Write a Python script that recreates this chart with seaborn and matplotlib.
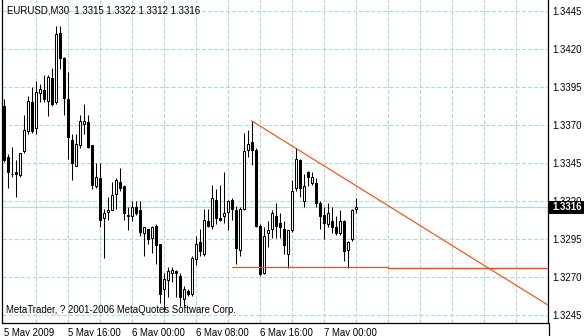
import numpy as np
import pandas as pd
import matplotlib
matplotlib.use("Agg")
import matplotlib.pyplot as plt
import matplotlib.transforms as mtransforms
from matplotlib.patches import Rectangle
import seaborn as sns

# ---------------- data ----------------
title_text = "EURUSD,M30  1.3315 1.3322 1.3312 1.3316"
footer_text = "MetaTrader, ? 2001-2006 MetaQuotes Software Corp."

opens = [1.3383, 1.3349, 1.3338, 1.3339, 1.3337, 1.3353, 1.3366, 1.3385, 1.3368, 1.3391,
         1.3393, 1.3386, 1.3401, 1.3385, 1.3431, 1.3414, 1.3387, 1.3360, 1.3343, 1.3357,
         1.3371, 1.3372, 1.3357, 1.3330, 1.3335, 1.3309, 1.3313, 1.3314, 1.3325, 1.3333,
         1.3330, 1.3310, 1.3310, 1.3316, 1.3314, 1.3299, 1.3302, 1.3296, 1.3304, 1.3292,
         1.3262, 1.3268, 1.3273, 1.3274, 1.3271, 1.3256, 1.3261, 1.3259, 1.3282, 1.3293,
         1.3285, 1.3307, 1.3304, 1.3321, 1.3309, 1.3310, 1.3313, 1.3321, 1.3314, 1.3288,
         1.3315, 1.3354, 1.3359, 1.3354, 1.3304, 1.3273, 1.3299, 1.3302, 1.3310, 1.3306,
         1.3302, 1.3285, 1.3301, 1.3329, 1.3347, 1.3320, 1.3339, 1.3332, 1.3332, 1.3319,
         1.3311, 1.3305, 1.3307, 1.3303, 1.3299, 1.3307, 1.3288, 1.3295, 1.3315]
highs = [1.3387, 1.3351, 1.3356, 1.3347, 1.3352, 1.3377, 1.3389, 1.3395, 1.3399, 1.3397,
         1.3403, 1.3403, 1.3408, 1.3435, 1.3435, 1.3415, 1.3405, 1.3364, 1.3364, 1.3377,
         1.3384, 1.3377, 1.3357, 1.3345, 1.3345, 1.3315, 1.3323, 1.3333, 1.3335, 1.3342,
         1.3331, 1.3316, 1.3320, 1.3320, 1.3320, 1.3303, 1.3302, 1.3304, 1.3305, 1.3292,
         1.3273, 1.3277, 1.3277, 1.3275, 1.3273, 1.3264, 1.3262, 1.3284, 1.3297, 1.3302,
         1.3315, 1.3315, 1.3331, 1.3328, 1.3331, 1.3339, 1.3321, 1.3322, 1.3317, 1.3316,
         1.3365, 1.3367, 1.3373, 1.3355, 1.3305, 1.3303, 1.3307, 1.3314, 1.3319, 1.3312,
         1.3307, 1.3301, 1.3334, 1.3355, 1.3348, 1.3338, 1.3340, 1.3339, 1.3335, 1.3320,
         1.3316, 1.3319, 1.3316, 1.3310, 1.3314, 1.3308, 1.3294, 1.3315, 1.3322]
lows = [1.3346, 1.3329, 1.3336, 1.3323, 1.3336, 1.3352, 1.3364, 1.3365, 1.3364, 1.3385,
        1.3385, 1.3376, 1.3383, 1.3384, 1.3407, 1.3377, 1.3348, 1.3334, 1.3343, 1.3355,
        1.3364, 1.3355, 1.3328, 1.3329, 1.3303, 1.3283, 1.3308, 1.3314, 1.3315, 1.3327,
        1.3308, 1.3301, 1.3307, 1.3311, 1.3297, 1.3284, 1.3292, 1.3286, 1.3279, 1.3253,
        1.3247, 1.3257, 1.3267, 1.3257, 1.3251, 1.3251, 1.3258, 1.3258, 1.3278, 1.3284,
        1.3284, 1.3303, 1.3302, 1.3305, 1.3307, 1.3306, 1.3301, 1.3308, 1.3279, 1.3284,
        1.3314, 1.3349, 1.3344, 1.3303, 1.3271, 1.3272, 1.3290, 1.3296, 1.3296, 1.3296,
        1.3285, 1.3276, 1.3300, 1.3327, 1.3323, 1.3316, 1.3330, 1.3331, 1.3316, 1.3302,
        1.3295, 1.3303, 1.3299, 1.3298, 1.3298, 1.3281, 1.3276, 1.3294, 1.3312]
closes = [1.3347, 1.3339, 1.3338, 1.3338, 1.3352, 1.3367, 1.3386, 1.3366, 1.3392, 1.3394,
          1.3387, 1.3402, 1.3384, 1.3430, 1.3414, 1.3388, 1.3362, 1.3345, 1.3358, 1.3373,
          1.3373, 1.3356, 1.3331, 1.3336, 1.3308, 1.3312, 1.3314, 1.3324, 1.3334, 1.3329,
          1.3312, 1.3311, 1.3316, 1.3312, 1.3300, 1.3303, 1.3295, 1.3303, 1.3291, 1.3259,
          1.3269, 1.3274, 1.3275, 1.3273, 1.3257, 1.3262, 1.3259, 1.3283, 1.3292, 1.3287,
          1.3308, 1.3304, 1.3322, 1.3309, 1.3308, 1.3312, 1.3320, 1.3315, 1.3289, 1.3315,
          1.3353, 1.3358, 1.3354, 1.3304, 1.3272, 1.3297, 1.3301, 1.3312, 1.3304, 1.3303,
          1.3291, 1.3301, 1.3327, 1.3348, 1.3329, 1.3330, 1.3336, 1.3336, 1.3319, 1.3310,
          1.3306, 1.3312, 1.3303, 1.3299, 1.3307, 1.3287, 1.3293, 1.3314, 1.3316]

time_labels = ["5 May 2009", "5 May 16:00", "6 May 00:00", "6 May 08:00", "6 May 16:00", "7 May 00:00"]
time_label_bars = [0, 16, 32, 48, 64, 80]
grid_bars = list(range(8, 137, 8))

price_ticks = [1.3245, 1.3270, 1.3295, 1.3320, 1.3345, 1.3370, 1.3395, 1.3420, 1.3445]
price_tick_labels = ["1.3245", "1.3270", "1.3295", "1.3320", "1.3345", "1.3370", "1.3395", "1.3420", "1.3445"]

bid_price = 1.3316
bid_label = "1.3316"

trend_bars = [62, 73]
trend_prices = [1.3373, 1.3355]

support_price = 1.3277
support_bars = [57, 96, 136]

# ---------------- style ----------------
sns.set_style("white")
plt.rcParams["font.family"] = ["Liberation Sans", "DejaVu Sans"]
plt.rcParams["lines.scale_dashes"] = False

GRID = "#a8dede"
BIDLINE = "#a6e2e2"
RED = "#ff4500"
FS = 6.9

fig = plt.figure(figsize=(5.84, 3.36), dpi=100)
fig.patch.set_facecolor("white")
ax = fig.add_axes([2 / 584, 13 / 336, 546 / 584, 323 / 336])
ax.set_facecolor("white")

n = len(opens)
df = pd.DataFrame({"bar": np.arange(n), "open": opens, "high": highs,
                   "low": lows, "close": closes})
df["bull"] = df["close"] >= df["open"]
df["body_lo"] = df[["open", "close"]].min(axis=1)
df["body_h"] = (df["close"] - df["open"]).abs()

# grid
for b in grid_bars:
    ax.axvline(b, color=GRID, lw=0.8, ls=(0, (2.9, 1.45)), zorder=0)
for p in price_ticks:
    ax.axhline(p, color=GRID, lw=0.8, ls=(0, (2.9, 1.45)), zorder=0)

# bid line
ax.axhline(bid_price, color=BIDLINE, lw=0.9, zorder=0.5)

# wicks
ax.vlines(df["bar"], df["low"], df["high"], color="black", lw=0.75, zorder=2)
# bodies
ax.bar(df["bar"], df["body_h"], bottom=df["body_lo"], width=0.5,
       color=np.where(df["bull"], "white", "black"), edgecolor="black",
       linewidth=0.75, zorder=3)

# support line segments
seg = pd.DataFrame({"bar": support_bars[:2], "price": [support_price] * 2})
sns.lineplot(data=seg, x="bar", y="price", color=RED, lw=0.8, ax=ax, zorder=4)
seg2 = pd.DataFrame({"bar": support_bars[1:], "price": [support_price - 0.00007] * 2})
sns.lineplot(data=seg2, x="bar", y="price", color=RED, lw=1.0, ax=ax, zorder=4)

# trend ray
slope = (trend_prices[1] - trend_prices[0]) / (trend_bars[1] - trend_bars[0])
ray_x = np.array([trend_bars[0], 140])
ray = pd.DataFrame({"bar": ray_x, "price": trend_prices[0] + slope * (ray_x - trend_bars[0])})
sns.lineplot(data=ray, x="bar", y="price", color=RED, lw=0.8, ax=ax, zorder=4)

ax.set_xlim(-0.375, 136.125)
ax.set_ylim(1.323993, 1.345243)
ax.set_xlabel("")
ax.set_ylabel("")

# spines
for s in ["left", "right", "bottom"]:
    ax.spines[s].set_color("black")
    ax.spines[s].set_linewidth(0.9)
ax.spines["top"].set_visible(False)

# y tick labels at right
ax.yaxis.tick_right()
ax.set_yticks(price_ticks)
ax.set_yticklabels(price_tick_labels)
ax.tick_params(axis="y", length=0, pad=3, labelsize=FS, labelcolor="black")

# x ticks at label bars
ax.set_xticks(time_label_bars)
ax.set_xticklabels([])
ax.tick_params(axis="x", length=3, width=0.8, color="black", direction="out")
xt = mtransforms.blended_transform_factory(ax.transData, fig.transFigure)
for b, lab in zip(time_label_bars, time_labels):
    ax.text(b + 0.05, 3.5 / 336, lab, transform=xt, ha="left", va="center",
            fontsize=FS, color="black", clip_on=False)

# title and footer
fig.text(7 / 584, 1 - 10.5 / 336, title_text, ha="left", va="center", fontsize=FS, color="black")
fig.text(6 / 584, 1 - 310 / 336, footer_text, ha="left", va="center", fontsize=FS, color="black")

# bid price box
bt = mtransforms.blended_transform_factory(fig.transFigure, ax.transData)
box_h = 13 / 15200
ax.add_patch(Rectangle((549 / 584, bid_price - box_h / 2), 35 / 584, box_h,
                       transform=bt, facecolor="black", edgecolor="none",
                       clip_on=False, zorder=10))
ax.text(552.5 / 584, bid_price, bid_label, transform=bt, ha="left", va="center",
        fontsize=FS, color="white", fontweight="bold", clip_on=False, zorder=11)

# separator below axis
fig.add_artist(plt.Line2D([548.5 / 584, 548.5 / 584], [0, 13 / 336], color="black", lw=0.9))

fig.savefig("out.png", dpi=100, facecolor="white")
